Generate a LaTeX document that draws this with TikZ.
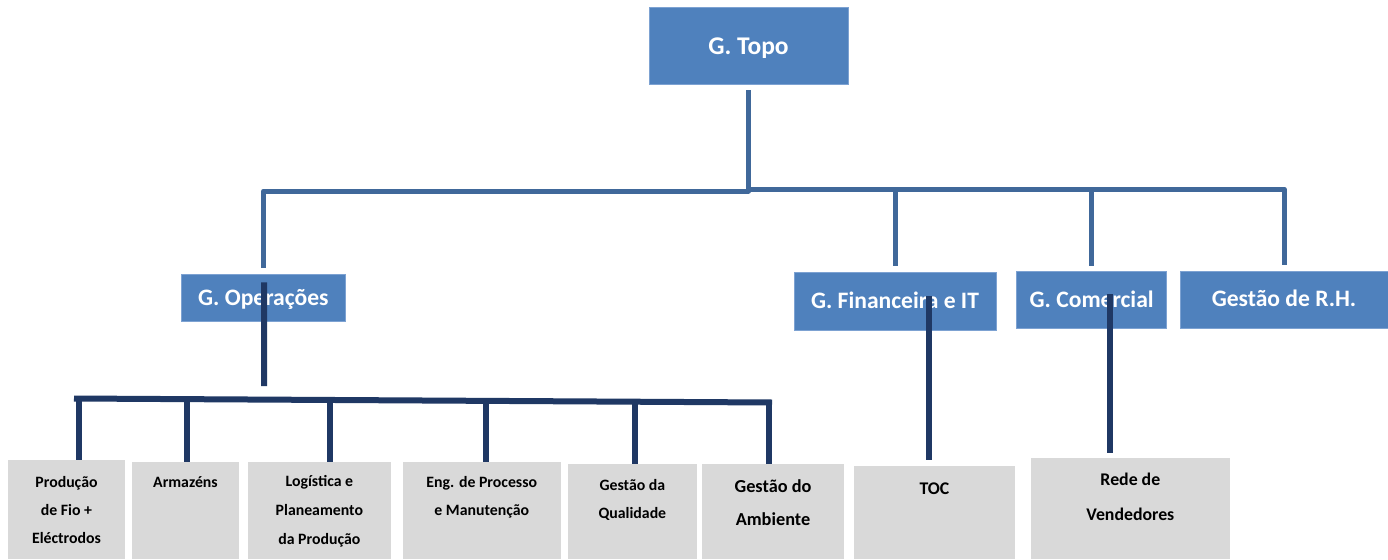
\documentclass[tikz,border=0pt]{standalone}
\usepackage{fontspec}
\setmainfont{Carlito}
\newcommand\fsz[2]{\fontsize{#1}{#2}\selectfont\bfseries}
\definecolor{blueF}{RGB}{79,129,189}
\definecolor{blueE}{RGB}{125,162,210}
\definecolor{grayF}{RGB}{217,217,217}
\definecolor{upC}{RGB}{64,104,154}
\definecolor{dkC}{RGB}{31,56,100}
\begin{document}
\begin{tikzpicture}[x=1pt,y=-1pt,
  bluebox/.style={fill=blueF,draw=blueE,line width=0.6pt,inner sep=0pt,text=white,
    font=\fsz{23.6}{28},text height=14.5pt,text depth=0pt},
  graybox/.style={fill=grayF,inner sep=0pt},
  gtext/.style={anchor=north,inner sep=0pt,align=center,text=black},
  upline/.style={draw=upC,line width=5pt,line join=round},
  dkline/.style={draw=dkC,line width=6pt}]
\useasboundingbox[fill=white] (0,0) rectangle (1388,559);
% top level
\node[bluebox,minimum width=199pt,minimum height=77pt,font=\fsz{25.5}{30},text height=17pt] (topo) at (748.5,45.8) {G. Topo};
% second level
\node[bluebox,minimum width=163.3pt,minimum height=47.4pt] (ops) at (263.35,298) {G. Operações};
\node[bluebox,minimum width=202pt,minimum height=57.7pt] (fin) at (895,301.15) {G. Financeira e IT};
\node[bluebox,minimum width=150pt,minimum height=57pt] (com) at (1091.7,300.2) {G. Comercial};
\node[bluebox,minimum width=208pt,minimum height=57pt] (rh) at (1284,299.5) {Gestão de R.H.};
% third level boxes
\node[graybox,minimum width=117pt,minimum height=99pt] (prod) at (66.5,509.5) {};
\node[graybox,minimum width=107pt,minimum height=97pt] (arm) at (185.5,510.5) {};
\node[graybox,minimum width=142.7pt,minimum height=97pt] (log) at (319.35,510.5) {};
\node[graybox,minimum width=158.5pt,minimum height=97pt] (eng) at (481.75,510.5) {};
\node[graybox,minimum width=128.7pt,minimum height=95pt] (qual) at (632.35,511.5) {};
\node[graybox,minimum width=142pt,minimum height=95pt] (amb) at (773,511.5) {};
\node[graybox,minimum width=161pt,minimum height=93pt] (toc) at (934.5,512.5) {};
\node[graybox,minimum width=199.3pt,minimum height=101.3pt] (rede) at (1130.35,508.35) {};
% third level texts
\node[gtext,font=\fsz{15.8}{28}] (prodT) at (66.5,471.2) {\rule{0pt}{15.8pt}Produção\\de Fio +\\Eléctrodos};
\node[gtext,font=\fsz{15.8}{28}] (armT) at (185.5,471.2) {\rule{0pt}{15.8pt}Armazéns};
\node[gtext,font=\fsz{15.8}{29}] (logT) at (319.35,470.2) {\rule{0pt}{15.8pt}Logística e\\Planeamento\\da Produção};
\node[gtext,font=\fsz{15.8}{28}] (engT) at (481.75,471.2) {\rule{0pt}{15.8pt}Eng. de Processo\\e Manutenção};
\node[gtext,font=\fsz{15.8}{28}] (qualT) at (632.35,474.2) {\rule{0pt}{15.8pt}Gestão da\\Qualidade};
\node[gtext,font=\fsz{18.3}{33}] (ambT) at (773,473.7) {\rule{0pt}{18.3pt}Gestão do\\Ambiente};
\node[gtext,font=\fsz{17.8}{35}] (tocT) at (934.5,476.2) {\rule{0pt}{17.8pt}TOC};
\node[gtext,font=\fsz{17.8}{35}] (redeT) at (1130.35,467.2) {\rule{0pt}{17.8pt}Rede de\\Vendedores};
% upper connectors
\coordinate (hubL) at (748.5,191);
\coordinate (hubR) at (748.5,189);
\draw[upline] ([yshift=-5.7pt]topo.south) -- (hubL) -| ([yshift=5.6pt]ops.north);
\draw[upline] (hubR) -| ([yshift=5.3pt]rh.north);
\draw[upline] (fin.north |- hubR) -- ([yshift=5.6pt]fin.north);
\draw[upline] (com.north |- hubR) -- ([yshift=5.7pt]com.north);
% lower connectors
\coordinate (opsEnd) at (264,386);
\draw[dkline] ([xshift=0.7pt,yshift=-8.4pt]ops.north) -- (opsEnd);
\coordinate (busL) at (74,398.5);
\coordinate (busR) at (772,402.5);
\coordinate (d1) at (79,398.5);
\coordinate (d2) at (186.7,399.1);
\coordinate (d3) at (330,399.9);
\coordinate (d4) at (485.5,400.8);
\coordinate (d5) at (635,401.7);
\coordinate (d6) at (768.5,402.5);
\draw[dkline] (d1) -- (d1 |- prod.north);
\draw[dkline] (d2) -- (d2 |- arm.north);
\draw[dkline] (d3) -- (d3 |- log.north);
\draw[dkline] (d4) -- (d4 |- eng.north);
\draw[dkline] (d5) -- (d5 |- qual.north);
\draw[dkline] (d6) -- (d6 |- amb.north);
\draw[dkline] (busL) -- (busR);
\coordinate (finL) at (928.5,296);
\coordinate (tocTop) at ([yshift=6pt]toc.north);
\draw[dkline] (finL) -- (finL |- tocTop);
\coordinate (comL) at (1109.5,294);
\coordinate (redeTop) at ([yshift=4.7pt]rede.north);
\draw[dkline] (comL) -- (comL |- redeTop);
\end{tikzpicture}
\end{document}
